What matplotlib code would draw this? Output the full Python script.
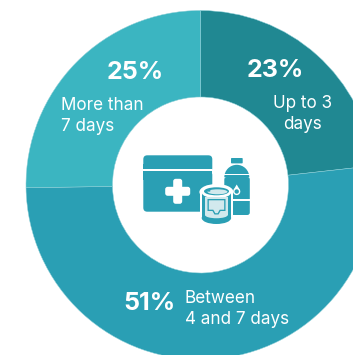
import matplotlib
matplotlib.use("Agg")
import matplotlib.pyplot as plt
from matplotlib.patches import FancyBboxPatch, Rectangle, Ellipse, Wedge, Polygon, Circle

W, H = 353, 355
shares = [23, 51, 25]
share_labels = ["23%", "51%", "25%"]
descriptions = ["Up to 3\ndays", "Between\n4 and 7 days", "More than\n7 days"]
ring_colors = ["#208892", "#2a9fb4", "#3bb5c1"]
ICON = "#2a9fb4"
LABEL_TINT = "#d2e9ed"
FONT = "Inter"
BIG = 18
SMALL = 12.3

fig = plt.figure(figsize=(W / 100, H / 100), dpi=100)
ax = fig.add_axes([0, 0, 1, 1])

cx, cy, r_out, r_in = 200.5, H - 185, 174.5, 88
ax.pie(shares, colors=ring_colors, startangle=90, counterclock=False,
       center=(cx, cy), radius=r_out,
       wedgeprops=dict(width=r_out - r_in, edgecolor="#8fd0d8", linewidth=0.35))
ax.set_xlim(0, W)
ax.set_ylim(0, H)
ax.set_aspect("equal")
ax.axis("off")


def y(v):
    return H - v


def txt(px, py, s, size, weight="heavy", ha="left", linespacing=1.26):
    ax.text(px, y(py), s, color="white", fontsize=size, fontweight=weight, ha=ha,
            va="center", family=FONT, linespacing=linespacing)


# percentages and their captions
txt(135, 72.5, share_labels[2], BIG, "bold", "center")
txt(61, 116, descriptions[2], SMALL, "normal")
txt(275, 70.5, share_labels[0], BIG, "bold", "center")
txt(302.5, 114, descriptions[0], SMALL, "normal", "center")
txt(149.5, 303.5, share_labels[1], BIG, "bold", "center")
txt(185, 309, descriptions[1], SMALL, "normal")


def rbox(x0, y0, x1, y1, rad, color, z=3):
    ax.add_patch(FancyBboxPatch((x0 + rad, y(y1) + rad), x1 - x0 - 2 * rad, y1 - y0 - 2 * rad,
                                boxstyle=f"round,pad={rad},rounding_size={rad}",
                                fc=color, ec="none", zorder=z))


def rect(x0, y0, x1, y1, color, z=3):
    ax.add_patch(Rectangle((x0, y(y1)), x1 - x0, y1 - y0, fc=color, ec="none", zorder=z))


# first-aid case
rbox(143.3, 155.3, 212.3, 172, 4, ICON)
rect(143.3, 164, 212.3, 169, ICON)
rect(143.3, 169, 212.3, 171, "white")
rbox(143.3, 171, 212.3, 211.7, 4, ICON)
rect(143.3, 171, 212.3, 180, ICON)
rbox(165.2, 186.8, 190.2, 195.8, 2.5, "white", 4)
rbox(173.2, 178.8, 182.2, 203.8, 2.5, "white", 4)

# water bottle
rbox(231, 158, 242.7, 163.4, 0.8, ICON)
ax.add_patch(Wedge((236.8, y(177.3)), 12.5, 0, 180, fc=ICON, ec="none", zorder=3))
rbox(224.3, 177, 249.8, 215, 2.5, ICON)
rect(224.3, 173.5, 249.8, 175, "white", 4)
rect(224.3, 199, 249.8, 200.5, "white", 4)
ax.add_patch(Circle((236.7, y(191.5)), 3.6, fc="white", ec="none", zorder=4))
ax.add_patch(Polygon([(233.6, y(189.8)), (239.8, y(189.8)), (236.7, y(184.5))],
                     fc="white", ec="none", zorder=4))
ax.add_patch(Circle((236.7, y(191.5)), 2.2, fc=ICON, ec="none", zorder=4))

# tin can: white halo, dark shell, lid and tinted label
ax.add_patch(Ellipse((216.4, y(192)), 34, 16, fc="white", ec="none", zorder=5))
rect(199.7, 192, 233.1, 219, "white", 5)
ax.add_patch(Ellipse((216.4, y(219)), 33.4, 12, fc="white", ec="none", zorder=5))
rect(201.7, 193, 231.1, 218, ICON, 6)
ax.add_patch(Ellipse((216.4, y(218)), 29.4, 12, fc=ICON, ec="none", zorder=6))
ax.add_patch(Ellipse((216.4, y(192.5)), 29.4, 11.5, fc="white", ec="none", zorder=6))
ax.add_patch(Ellipse((216.5, y(191.3)), 25, 8, fc=ICON, ec="none", zorder=7))
ax.add_patch(Ellipse((217.5, y(191.8)), 20, 5, fc=LABEL_TINT, ec="none", zorder=8))
ax.add_patch(Ellipse((209, y(190.8)), 3, 1.8, fc=ICON, ec="none", zorder=9))
rect(205, 197, 227.8, 215, LABEL_TINT, 7)
ax.add_patch(Ellipse((216.4, y(215)), 22.8, 6.5, fc=LABEL_TINT, ec="none", zorder=7))
ax.add_patch(Polygon([(207.5, y(199)), (225.5, y(199)), (225.5, y(211)), (220.5, y(211)),
                      (218.5, y(214.5)), (214.5, y(214.5)), (212.5, y(211)), (207.5, y(211))],
                     fc=ICON, ec="none", zorder=8))
ax.add_patch(Polygon([(208.8, y(200.3)), (224.2, y(200.3)), (224.2, y(209.7)), (219.7, y(209.7)),
                      (217.7, y(213.2)), (215.3, y(213.2)), (213.3, y(209.7)), (208.8, y(209.7))],
                     fc=LABEL_TINT, ec="none", zorder=9))

fig.savefig("out.png", dpi=100)
